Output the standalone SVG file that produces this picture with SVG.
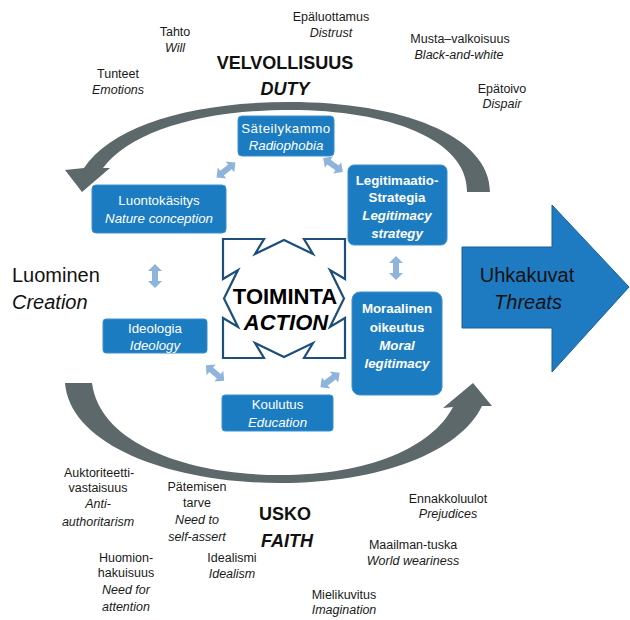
<svg xmlns="http://www.w3.org/2000/svg" xmlns:xlink="http://www.w3.org/1999/xlink" width="630" height="620" viewBox="0 0 630 620">
<style>
.lbl{font-family:"Liberation Sans",Arial,sans-serif;font-size:12.5px;fill:#1a1a1a;text-anchor:middle}
.it{font-style:italic}
.big{font-family:"Liberation Sans",Arial,sans-serif;font-size:18px;font-weight:bold;fill:#111;text-anchor:middle}
.side{font-family:"Liberation Sans",Arial,sans-serif;font-size:20px;fill:#111}
.box{fill:#1c7cc2;stroke:#3d8fd0;stroke-width:1}
.bt{font-family:"Liberation Sans",Arial,sans-serif;font-size:13.3px;fill:#fff;text-anchor:middle}
.bb{font-weight:bold}
.arc{fill:#5d686b}
.da{fill:#8fb4dc}
.act{font-family:"Liberation Sans",Arial,sans-serif;font-size:22px;font-weight:bold;fill:#000;text-anchor:middle;stroke:#fff;stroke-width:3;paint-order:stroke}
</style>
<defs>
<path id="dbl" d="M-12,0 L-5,-7 L-5,-3 L5,-3 L5,-7 L12,0 L5,7 L5,3 L-5,3 L-5,7Z"/>
</defs>
<rect width="630" height="620" fill="#fff"/>

<g id="connectors">
<path class="arc" d="M490,192 C490,135 400,102 290,102 C190,102 112,126 84,168 L65,170 L82,192 L110,168 L103,168 C130,132 200,110 290,110 C390,110 468,140 467,192 Z"/>
<path class="arc" d="M65,383 C70,445 170,483 280,483 C380,483 460,452 482,406 L492,406 L473,383 L443,408 L453,407 C432,447 370,475 280,475 C190,475 100,445 92,383 Z"/>
<use href="#dbl" class="da" transform="translate(226,170) rotate(-38)"/>
<use href="#dbl" class="da" transform="translate(333,165) rotate(35)"/>
<use href="#dbl" class="da" transform="translate(396,268) rotate(90)"/>
<use href="#dbl" class="da" transform="translate(155,276) rotate(90)"/>
<use href="#dbl" class="da" transform="translate(215,373) rotate(40)"/>
<use href="#dbl" class="da" transform="translate(330,380) rotate(-37)"/>
</g>

<g id="threats">
<path d="M462,247 H552 V205 L629,287 L552,372 V328 H462 Z" fill="#1f7bc1" stroke="#16609a" stroke-width="1"/>
<text class="side" x="527" y="282" text-anchor="middle">Uhkakuvat</text>
<text class="side it" x="528" y="309" text-anchor="middle">Threats</text>
</g>

<g id="action">
<path d="M223,239 H264 L255,254 L284,240 L313,254 L304,239 H345 V279 L330,270 L344,298.5 L330,327 L345,318 V358 H304 L313,343 L284,357 L255,343 L264,358 H223 V318 L238,327 L224,298.5 L238,270 L223,279 Z" fill="#fff" stroke="#1d4f7a" stroke-width="2.2" stroke-linejoin="miter"/>
<text class="act" x="285" y="304">TOIMINTA</text>
<text class="act it" x="286" y="330">ACTION</text>
</g>

<g id="sateily">
<rect class="box" x="238" y="116" width="96" height="40" rx="4"/>
<text class="bt" x="286" y="133" letter-spacing="0.5">Säteilykammo</text>
<text class="bt it" x="286" y="150">Radiophobia</text>
</g>
<g id="luonto">
<rect class="box" x="92" y="185" width="134" height="48" rx="4"/>
<text class="bt" x="159" y="205">Luontokäsitys</text>
<text class="bt it" x="159" y="223">Nature conception</text>
</g>
<g id="legit">
<rect class="box" x="348" y="165" width="99" height="80" rx="6"/>
<text class="bt bb" x="397" y="185">Legitimaatio-</text>
<text class="bt bb" x="397" y="202">Strategia</text>
<text class="bt bb it" x="397" y="220">Legitimacy</text>
<text class="bt bb it" x="397" y="238">strategy</text>
</g>
<g id="moraal">
<rect class="box" x="352" y="292" width="90" height="103" rx="8"/>
<text class="bt bb" x="397" y="313">Moraalinen</text>
<text class="bt bb" x="397" y="332">oikeutus</text>
<text class="bt bb it" x="397" y="350">Moral</text>
<text class="bt bb it" x="397" y="368">legitimacy</text>
</g>
<g id="ideologia">
<rect class="box" x="103" y="319" width="104" height="34" rx="3"/>
<text class="bt" x="155" y="333">Ideologia</text>
<text class="bt it" x="155" y="350">Ideology</text>
</g>
<g id="koulutus">
<rect class="box" x="222" y="395" width="111" height="36" rx="3"/>
<text class="bt" x="277.5" y="409">Koulutus</text>
<text class="bt it" x="277.5" y="427">Education</text>
</g>

<g id="duty">
<text class="big" x="285" y="68.5">VELVOLLISUUS</text>
<text class="big it" x="285" y="95">DUTY</text>
</g>
<g id="faith">
<text class="big" x="285" y="519.5">USKO</text>
<text class="big it" x="287" y="546.5">FAITH</text>
</g>
<g id="creation">
<text class="side" x="12" y="282">Luominen</text>
<text class="side it" x="12" y="309">Creation</text>
</g>

<g id="tahto"><text class="lbl" x="175" y="36">Tahto</text><text class="lbl it" x="175" y="52">Will</text></g>
<g id="tunteet"><text class="lbl" x="118" y="78">Tunteet</text><text class="lbl it" x="118" y="94">Emotions</text></g>
<g id="epaluottamus"><text class="lbl" x="331" y="21">Epäluottamus</text><text class="lbl it" x="331" y="37">Distrust</text></g>
<g id="musta"><text class="lbl" x="460" y="43">Musta–valkoisuus</text><text class="lbl it" x="459" y="59">Black-and-white</text></g>
<g id="epatoivo"><text class="lbl" x="502" y="93">Epätoivo</text><text class="lbl it" x="502" y="108">Dispair</text></g>
<g id="auktoriteetti"><text class="lbl" x="99" y="477">Auktoriteetti-</text><text class="lbl" x="98" y="492">vastaisuus</text><text class="lbl it" x="98" y="508">Anti-</text><text class="lbl it" x="98" y="526">authoritarism</text></g>
<g id="patemisen"><text class="lbl" x="197" y="491">Pätemisen</text><text class="lbl" x="197" y="507">tarve</text><text class="lbl it" x="197" y="524">Need to</text><text class="lbl it" x="197" y="541">self-assert</text></g>
<g id="huomion"><text class="lbl" x="126" y="562">Huomion-</text><text class="lbl" x="126" y="577">hakuisuus</text><text class="lbl it" x="126" y="594">Need for</text><text class="lbl it" x="126" y="611">attention</text></g>
<g id="idealismi"><text class="lbl" x="232" y="562">Idealismi</text><text class="lbl it" x="232" y="578">Idealism</text></g>
<g id="mielikuvitus"><text class="lbl" x="344" y="599">Mielikuvitus</text><text class="lbl it" x="344" y="614">Imagination</text></g>
<g id="maailman"><text class="lbl" x="413" y="549">Maailman-tuska</text><text class="lbl it" x="413" y="565">World weariness</text></g>
<g id="ennakko"><text class="lbl" x="448" y="503">Ennakkoluulot</text><text class="lbl it" x="448" y="518">Prejudices</text></g>
</svg>
